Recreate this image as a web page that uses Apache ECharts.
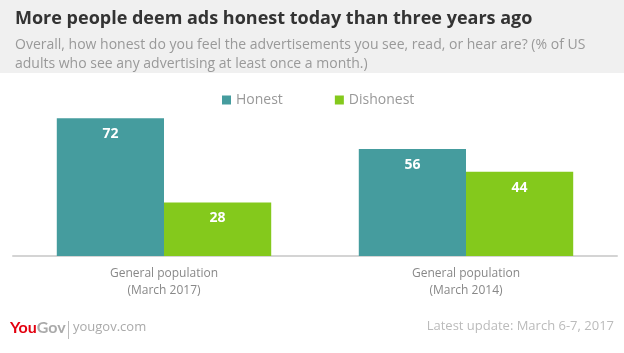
<!DOCTYPE html>
<html lang="en">
<head>
    <meta charset="UTF-8">
    <title>YouGov - ads honesty</title>
    <script src="https://cdn.jsdelivr.net/npm/echarts@6/dist/echarts.min.js"></script>
    <style>
        body { margin: 0; }
        #main { width: 624px; height: 353px; }
    </style>
</head>
<body>
<div id="main"></div>
<script type="text/javascript">
    var categories = ['General population\n(March 2017)', 'General population\n(March 2014)'];
    var seriesNames = ['Honest', 'Dishonest'];
    var honest = [72, 56];
    var dishonest = [28, 44];

    var font = '"Open Sans", Lato, sans-serif';
    var myChart = echarts.init(document.getElementById('main'));

    var barLabel = {
        show: true,
        position: 'insideTop',
        distance: 9,
        color: '#fff',
        fontWeight: 'bold',
        fontSize: 14,
        fontFamily: font
    };

    var option = {
        animation: false,
        backgroundColor: '#fff',
        color: ['#459c9e', '#84c91c'],
        title: [
            {
                text: 'More people deem ads honest today than three years ago',
                left: 10, top: 5,
                textStyle: { fontSize: 18, fontWeight: 'bold', color: '#333', fontFamily: font }
            },
            {
                text: 'Overall, how honest do you feel the advertisements you see, read, or hear are? (% of US\nadults who see any advertising at least once a month.)',
                left: 10, top: 31,
                textStyle: { fontSize: 14, fontWeight: 'normal', color: '#999', fontFamily: font, lineHeight: 19 }
            }
        ],
        legend: {
            data: seriesNames,
            left: 217, top: 88,
            itemWidth: 9, itemHeight: 9,
            itemGap: 52,
            icon: 'rect',
            textStyle: { fontSize: 14, color: '#999', fontFamily: font }
        },
        grid: { left: 13, right: 7, top: 103, bottom: 97 },
        xAxis: {
            type: 'category',
            data: categories,
            axisLine: { lineStyle: { color: '#d4d4d4', width: 2 } },
            axisTick: { show: false },
            axisLabel: { color: '#888', fontSize: 12, fontFamily: font, lineHeight: 17, margin: 9 }
        },
        yAxis: {
            type: 'value', min: 0, max: 80,
            show: false,
            splitLine: { show: false }
        },
        series: [
            { name: seriesNames[0], type: 'bar', data: honest, barGap: '0%', barCategoryGap: '29%', label: barLabel },
            { name: seriesNames[1], type: 'bar', data: dishonest, barGap: '0%', barCategoryGap: '29%', label: barLabel }
        ],
        graphic: [
            { type: 'rect', z: -10, shape: { x: 0, y: 0, width: 624, height: 73 }, style: { fill: '#f0f0f0' } },
            {
                type: 'text', left: 10, top: 320,
                style: {
                    text: '{a|You}{b|Gov}',
                    rich: {
                        a: { fill: '#e3000f', fontWeight: 'bold', fontSize: 16, fontFamily: 'Lato, sans-serif' },
                        b: { fill: '#aaa', fontWeight: 'bold', fontSize: 16, fontFamily: 'Lato, sans-serif' }
                    }
                }
            },
            { type: 'rect', shape: { x: 68, y: 321, width: 1, height: 18 }, style: { fill: '#bbb' } },
            { type: 'text', left: 73, top: 321, style: { text: 'yougov.com', fill: '#aaa', font: '13px ' + font } },
            { type: 'text', right: 10, top: 320, style: { text: 'Latest update: March 6-7, 2017', fill: '#bbb', font: '13px ' + font } }
        ]
    };

    myChart.setOption(option);
</script>
</body>
</html>
